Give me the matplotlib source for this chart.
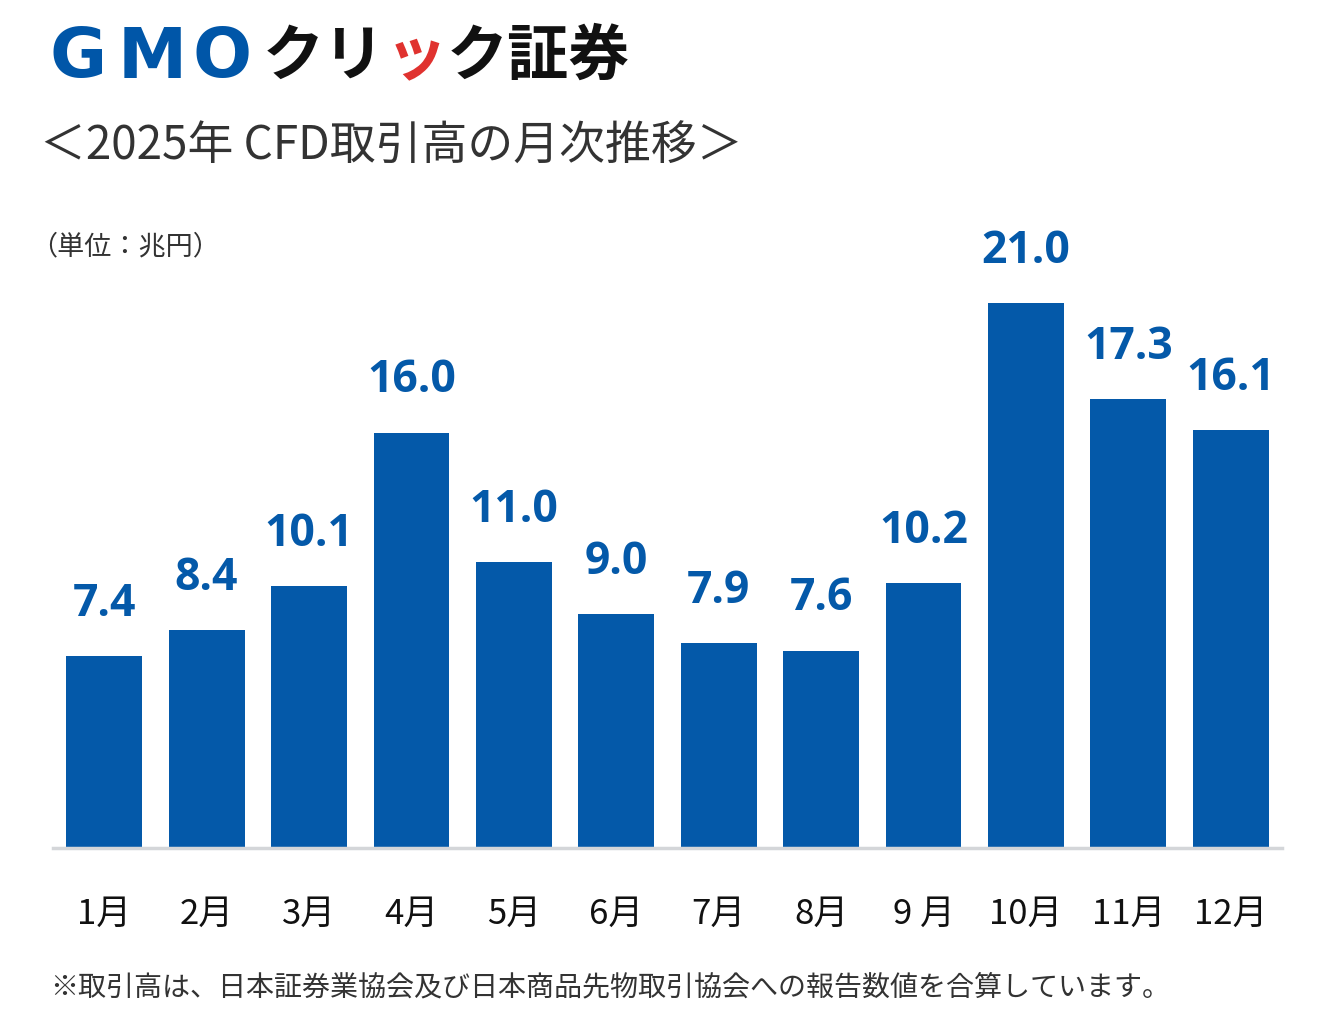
import matplotlib.pyplot as plt

plt.rcParams['font.family'] = ['Noto Sans CJK JP', 'DejaVu Sans']

# data
months = ['1月', '2月', '3月', '4月', '5月', '6月', '7月', '8月', '9 月', '10月', '11月', '12月']
values = [7.4, 8.4, 10.1, 16.0, 11.0, 9.0, 7.9, 7.6, 10.2, 21.0, 17.3, 16.1]

title = '＜2025年 CFD取引高の月次推移＞'
unit = '（単位：兆円）'
note = '※取引高は、日本証券業協会及び日本商品先物取引協会への報告数値を合算しています。'

blue = '#0459A9'
W, H = 1324, 1027
fig = plt.figure(figsize=(W / 100, H / 100), dpi=100)

# axes placed in pixel coords: baseline at y=848, x from 53 to 1282
ax = fig.add_axes([53 / W, 1 - 848 / H, (1282 - 53) / W, (848 - 225) / H])
x = range(len(values))
bars = ax.bar(x, values, width=0.74, color=blue, zorder=2)
ax.set_xlim(-0.5, 11.5)
ax.set_ylim(0, 24)
ax.set_yticks([])
ax.set_xticks([])
for s in ['top', 'right', 'left']:
    ax.spines[s].set_visible(False)
ax.spines['bottom'].set_color('#d4d6d9')
ax.spines['bottom'].set_linewidth(2.5)

# value labels above bars
for xi, v in zip(x, values):
    ax.annotate(f'{v:.1f}', (xi, v), xytext=(0, 29), textcoords='offset points',
                ha='center', va='baseline', fontsize=32, fontweight='bold',
                color=blue, family=['Open Sans', 'DejaVu Sans'])

# month labels
for xi, m in zip(x, months):
    ax.annotate(m, (xi, 0), xytext=(0, -47.5), textcoords='offset points',
                ha='center', va='center', fontsize=25, color='#111111')

# logo
for ch, px in zip('GMO', [78, 152, 222]):
    fig.text(px / W, 1 - 58 / H, ch, ha='center', va='center', fontsize=50,
             fontweight='heavy', color='#0056a8', family=['DejaVu Sans'])
logo_parts = [('クリ', '#111111', 263), ('ッ', '#e0322f', 386), ('ク証券', '#111111', 447)]
for txt, col, px in logo_parts:
    fig.text(px / W, 1 - 57 / H, txt, ha='left', va='center', fontsize=44,
             fontweight='bold', color=col)

fig.text(40 / W, 1 - 147 / H, title, ha='left', va='center', fontsize=33, color='#333333')
fig.text(30 / W, 1 - 247 / H, unit, ha='left', va='center', fontsize=19.5, color='#333333')
fig.text(50 / W, 1 - 987 / H, note, ha='left', va='center', fontsize=20.2, color='#333333')

fig.savefig('out.png', dpi=100)
